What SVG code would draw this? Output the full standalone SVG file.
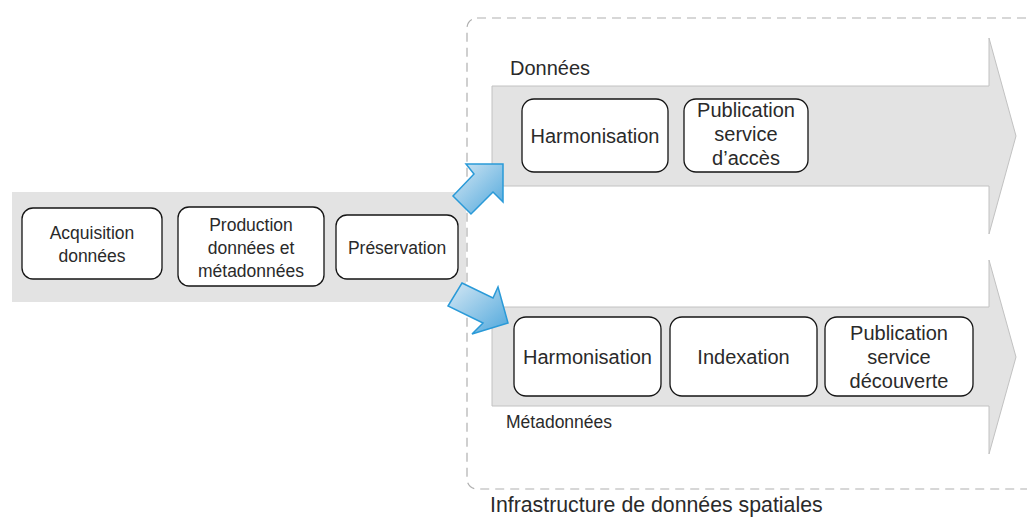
<svg xmlns="http://www.w3.org/2000/svg" width="1027" height="519" viewBox="0 0 1027 519">
<defs>
<style>
.band{fill:#e3e3e3;stroke:none}
.big{fill:#e3e3e3;stroke:#c2c2c2;stroke-width:1}
.node{fill:#ffffff;stroke:#151515;stroke-width:1.3}
.t{font-family:"Liberation Sans",Arial,sans-serif;fill:#2a2a2a;text-anchor:middle}
.lbl{font-family:"Liberation Sans",Arial,sans-serif;fill:#2a2a2a}
.blue{fill:url(#bg);stroke:#2a9ad8;stroke-width:1.5;stroke-linejoin:miter}
.cont{fill:none;stroke:#b0b0b0;stroke-width:1.2;stroke-dasharray:9 6}
</style>
<linearGradient id="bg" x1="0" y1="0" x2="1" y2="1">
<stop offset="0" stop-color="#d6e8f4"/>
<stop offset="1" stop-color="#4ea7dc"/>
</linearGradient>
</defs>

<g id="background">
<rect class="band" x="12" y="192" width="454" height="110"/>
<polygon class="big" points="492,86 989,86 989,38 1016,136 989,234 989,186 492,186"/>
<polygon class="big" points="492,307 989,307 989,260 1016,357 989,454 989,406 492,406"/>
<rect class="cont" x="467" y="18" width="580" height="471" rx="10" ry="10"/>
</g>

<g id="connectors">
<polygon class="blue" points="474,174 466,164 503,164 503,202 493,192 471,214 453,196"/>
<polygon class="blue" points="462,283 493,298 498,287 508,323 472,334 483,323 448,306"/>
</g>

<g id="acquisition">
<rect class="node" x="22" y="208" width="140" height="71" rx="11"/>
<text class="t" font-size="17.5"><tspan x="92" y="239">Acquisition</tspan><tspan x="92" y="262">données</tspan></text>
</g>
<g id="production">
<rect class="node" x="178" y="207" width="146" height="79" rx="11"/>
<text class="t" font-size="17.5"><tspan x="251" y="231">Production</tspan><tspan x="251" y="254">données et</tspan><tspan x="251" y="277">métadonnées</tspan></text>
</g>
<g id="preservation">
<rect class="node" x="336" y="215" width="122" height="64" rx="11"/>
<text class="t" font-size="17.5" x="397" y="254">Préservation</text>
</g>

<g id="label-donnees">
<text class="lbl" font-size="20" x="510" y="75">Données</text>
</g>
<g id="harmonisation-donnees">
<rect class="node" x="522" y="99" width="146" height="73" rx="12"/>
<text class="t" font-size="20" x="595" y="143">Harmonisation</text>
</g>
<g id="publication-acces">
<rect class="node" x="684" y="99" width="124" height="73" rx="12"/>
<text class="t" font-size="20"><tspan x="746" y="117">Publication</tspan><tspan x="746" y="141">service</tspan><tspan x="746" y="165">d’accès</tspan></text>
</g>

<g id="harmonisation-meta">
<rect class="node" x="514" y="317" width="147" height="79" rx="12"/>
<text class="t" font-size="20" x="587.5" y="364">Harmonisation</text>
</g>
<g id="indexation">
<rect class="node" x="670" y="317" width="147" height="79" rx="12"/>
<text class="t" font-size="20" x="743.5" y="364">Indexation</text>
</g>
<g id="publication-decouverte">
<rect class="node" x="825" y="317" width="148" height="79" rx="12"/>
<text class="t" font-size="20"><tspan x="899" y="340">Publication</tspan><tspan x="899" y="364">service</tspan><tspan x="899" y="388">découverte</tspan></text>
</g>
<g id="label-metadonnees">
<text class="lbl" font-size="17.5" x="506" y="428">Métadonnées</text>
</g>
<g id="label-ids">
<text class="lbl" font-size="21.3" x="490" y="512">Infrastructure de données spatiales</text>
</g>
</svg>
